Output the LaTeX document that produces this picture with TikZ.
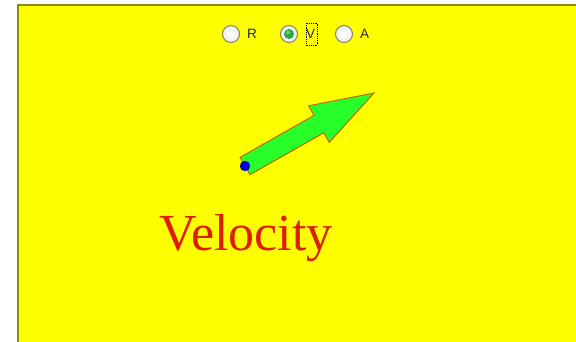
\documentclass[tikz,border=0pt]{standalone}
\usepackage{fontspec}
\setmainfont{Liberation Serif}
\newfontfamily\labfont{Liberation Sans}
\definecolor{bgyellow}{RGB}{255,255,0}
\definecolor{edgeolive}{RGB}{140,140,0}
\definecolor{arrowgreen}{RGB}{40,255,40}
\definecolor{arrowedge}{RGB}{200,90,0}
\definecolor{velred}{RGB}{220,30,0}
\definecolor{radioedge}{RGB}{130,130,100}
\definecolor{radiodot}{RGB}{40,170,60}
\tikzset{
  radio/.style={circle, draw=radioedge, line width=1pt, inner color=white, outer color=gray!15, minimum size=17pt, inner sep=0pt},
  radiolabel/.style={font=\labfont\fontsize{13.5}{14}\selectfont, inner sep=0pt, anchor=west, text=black!85}
}
\begin{document}
\begin{tikzpicture}[x=1pt,y=-1pt]
\useasboundingbox (0,0) rectangle (576,342);
\fill[white] (0,0) rectangle (576,342);
\fill[bgyellow] (17,4) rectangle (576,342);
\draw[edgeolive, line width=2pt] (18,342) -- (18,5) -- (576,5);
% radio buttons
\node[radio] (rR) at (231,34) {};
\node[radiolabel] (lR) at (247,34) {R};
\node[radio] (rV) at (289,34) {};
\fill[radiodot] (rV) circle (5pt);
\fill[white, opacity=0.35] (288,32.5) circle (2pt);
\node[radiolabel] (lV) at (306,34) {V};
\draw[black, densely dotted, line width=0.8pt] (306,23) rectangle (317.5,45);
\node[radio] (rA) at (344,34) {};
\node[radiolabel] (lA) at (360,34) {A};
% arrow
\filldraw[fill=arrowgreen, draw=arrowedge, line width=0.9pt, line join=miter]
  (250.0,174.7) -- (323.9,132.8) -- (329.3,142.4) -- (374,93)
  -- (308.6,105.8) -- (314.0,115.4) -- (240.1,157.3) -- cycle;
\fill[blue!80!black] (245,166) circle (5.2pt);
% label
\node[font=\fontsize{52}{60}\selectfont, text=velred, anchor=base west, inner sep=0pt] (vel) at (159,250) {Velocity};
\end{tikzpicture}
\end{document}
